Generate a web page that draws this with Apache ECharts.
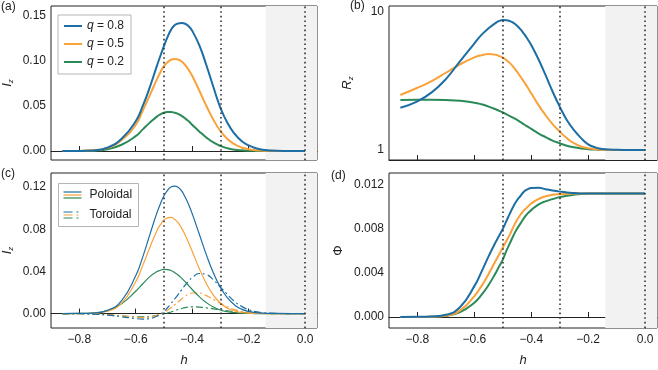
<!DOCTYPE html>
<html>
<head>
<meta charset="utf-8">
<script src="https://cdn.jsdelivr.net/npm/echarts@6/dist/echarts.min.js"></script>
<style>
  html, body { margin: 0; padding: 0; background: #fff; }
  #main { width: 658px; height: 370px; }
</style>
</head>
<body>
<div id="main"></div>
<script>
// sample positions along h, shared by every curve (finer around the peaks)
var hGrid = [-0.86, -0.8, -0.75, -0.7, -0.65, -0.6, -0.575, -0.55, -0.525,
             -0.5125, -0.5, -0.4875, -0.475, -0.4625, -0.45, -0.4375, -0.425, -0.4125, -0.4,
             -0.375, -0.35, -0.325, -0.3, -0.275, -0.25, -0.225, -0.2, -0.175, -0.15, -0.1, -0.05, 0.0];

// (a) I_z
var izBlue   = [0, 0.0001, 0.0006, 0.0038, 0.0135, 0.033, 0.05, 0.071, 0.0945,
                0.1058, 0.1165, 0.1265, 0.1345, 0.1395, 0.1416, 0.142, 0.1413, 0.1385, 0.1335,
                0.1175, 0.0955, 0.071, 0.048, 0.031, 0.0192, 0.011, 0.0062, 0.0032, 0.0014, 0.0002, 0, 0];
var izOrange = [0, 0.0001, 0.0007, 0.0034, 0.0122, 0.029, 0.045, 0.062, 0.0795,
                0.0875, 0.0942, 0.0985, 0.1013, 0.1022, 0.1016, 0.0993, 0.0955, 0.0901, 0.0835,
                0.0672, 0.0502, 0.0348, 0.0222, 0.0134, 0.0075, 0.0039, 0.0019, 0.0009, 0.0004, 0.0001, 0, 0];
var izGreen  = [0, 0.0001, 0.0004, 0.002, 0.0069, 0.0165, 0.024, 0.0315, 0.0382,
                0.0407, 0.0425, 0.0432, 0.0433, 0.0426, 0.0412, 0.039, 0.0362, 0.0329, 0.0292,
                0.0217, 0.015, 0.0095, 0.0056, 0.003, 0.0015, 0.0007, 0.0003, 0.0001, 0, 0, 0, 0];

// (b) R_z
var rzBlue   = [2.02, 2.25, 2.61, 3.26, 4.4, 5.9, 6.8, 7.59, 8.3,
                8.58, 8.71, 8.68, 8.55, 8.3, 7.92, 7.45, 6.9, 6.33, 5.74,
                4.55, 3.49, 2.65, 2.06, 1.65, 1.395, 1.22, 1.1, 1.045, 1.017, 1.003, 1, 1];
var rzOrange = [2.5, 2.82, 3.15, 3.62, 4.17, 4.68, 4.85, 4.94, 4.88,
                4.78, 4.65, 4.47, 4.25, 3.98, 3.68, 3.39, 3.1, 2.83, 2.57,
                2.12, 1.79, 1.54, 1.36, 1.22, 1.12, 1.06, 1.03, 1.012, 1.005, 1.001, 1, 1];
var rzGreen  = [2.3, 2.31, 2.31, 2.3, 2.27, 2.2, 2.14, 2.06, 1.97,
                1.92, 1.87, 1.815, 1.76, 1.705, 1.65, 1.59, 1.53, 1.475, 1.42,
                1.32, 1.24, 1.17, 1.12, 1.075, 1.046, 1.027, 1.015, 1.008, 1.004, 1.001, 1, 1];

// (c) poloidal / toroidal I_z
var poloBlue   = [0, 0.0001, 0.0005, 0.003, 0.0123, 0.0358, 0.0538, 0.0748, 0.0955,
                  0.1042, 0.1118, 0.1168, 0.1201, 0.1208, 0.1198, 0.1163, 0.1105, 0.1033, 0.0948,
                  0.0755, 0.0559, 0.0386, 0.0248, 0.0148, 0.0082, 0.0042, 0.002, 0.0009, 0.0004, 0.0001, 0, 0];
var poloOrange = [0, 0, 0.0003, 0.0022, 0.0099, 0.0302, 0.0457, 0.0627, 0.0785,
                  0.0843, 0.0889, 0.0907, 0.0913, 0.0895, 0.0862, 0.081, 0.0745, 0.0671, 0.059,
                  0.0428, 0.0285, 0.0174, 0.0098, 0.005, 0.0024, 0.001, 0.0004, 0.0001, 0, 0, 0, 0];
var poloGreen  = [0, 0.0001, 0.0007, 0.0029, 0.0093, 0.0211, 0.0283, 0.035, 0.0398,
                  0.0411, 0.0419, 0.0417, 0.0408, 0.039, 0.0366, 0.0336, 0.0302, 0.0265, 0.0228,
                  0.016, 0.0104, 0.0062, 0.0034, 0.0017, 0.0008, 0.0003, 0.0001, 0, 0, 0, 0, 0];
var toroBlue   = [0, -0.0002, -0.0006, -0.0015, -0.003, -0.0048, -0.0052, -0.0047, -0.0025,
                  -0.0005, 0.002, 0.0055, 0.0095, 0.0137, 0.018, 0.0225, 0.027, 0.0308, 0.034,
                  0.038, 0.037, 0.032, 0.025, 0.018, 0.0115, 0.0068, 0.0037, 0.0018, 0.0008, 0.0001, 0, 0];
var toroOrange = [0, -0.0001, -0.0004, -0.001, -0.0022, -0.0035, -0.0038, -0.0033, -0.0018,
                  -0.0005, 0.001, 0.0031, 0.0055, 0.0082, 0.011, 0.0138, 0.0165, 0.0183, 0.0195,
                  0.0195, 0.017, 0.0135, 0.0097, 0.0063, 0.0037, 0.002, 0.001, 0.0004, 0.0001, 0, 0, 0];
var toroGreen  = [0, -0.0001, -0.0004, -0.0011, -0.0022, -0.0031, -0.0032, -0.0028, -0.0018,
                  -0.0012, -0.0003, 0.0005, 0.0015, 0.0026, 0.0038, 0.0048, 0.0056, 0.0061, 0.0063,
                  0.0061, 0.0054, 0.0045, 0.0035, 0.0026, 0.0018, 0.0011, 0.0006, 0.0003, 0.0001, 0, 0, 0];

// (d) Phi
var phiBlue   = [0, 0.00001, 0.00005, 0.0002, 0.0009, 0.0028, 0.0041, 0.0055, 0.0068,
                 0.0074, 0.008, 0.0087, 0.0094, 0.01005, 0.0106, 0.011, 0.0114, 0.0116, 0.0117,
                 0.01173, 0.0116, 0.01148, 0.01138, 0.0113, 0.01125, 0.01122, 0.01121, 0.0112, 0.0112, 0.0112, 0.0112, 0.0112];
var phiOrange = [0, 0, 0.00003, 0.00012, 0.0006, 0.0019, 0.0028, 0.0039, 0.0051,
                 0.0057, 0.0063, 0.0069, 0.0075, 0.0082, 0.0088, 0.0093, 0.0097, 0.01, 0.0103,
                 0.0107, 0.01095, 0.0111, 0.01115, 0.01118, 0.0112, 0.0112, 0.0112, 0.0112, 0.0112, 0.0112, 0.0112, 0.0112];
var phiGreen  = [0, 0, 0.00002, 0.0001, 0.00045, 0.0013, 0.002, 0.0029, 0.004,
                 0.0046, 0.0052, 0.006, 0.0067, 0.0074, 0.008, 0.0085, 0.009, 0.0094, 0.0097,
                 0.0102, 0.0105, 0.0107, 0.01088, 0.011, 0.0111, 0.01117, 0.0112, 0.0112, 0.0112, 0.0112, 0.0112, 0.0112];

var qNames  = ['q = 0.8', 'q = 0.5', 'q = 0.2'];
var xTicks  = [-0.8, -0.6, -0.4, -0.2, 0.0];
var izTicks = [0, 0.05, 0.10, 0.15];
var rzTicks = [1, 10];
var rzMinor = [2, 3, 4, 5, 6, 7, 8, 9];
var ipTicks = [0, 0.04, 0.08, 0.12];
var phTicks = [0, 0.004, 0.008, 0.012];
var dottedAt = [-0.5, -0.3, 0.0];
var shadeFrom = -0.14;

var BLUE = '#1c6ea4', ORANGE = '#f9a23a', GREEN = '#2a8a58', INK = '#222';
var FONT = 'Liberation Sans';
var X_MIN = -0.9, X_MAX = 0.042;

function pts(ys) {
    return hGrid.map(function (h, i) { return [h, ys[i]]; });
}

function curve(name, ys, color, gi, width, dash) {
    return {
        name: name,
        type: 'line',
        xAxisIndex: gi,
        yAxisIndex: gi,
        data: pts(ys),
        smooth: 0.5,
        showSymbol: false,
        z: 3,
        lineStyle: { color: color, width: width, type: dash || 'solid' },
        itemStyle: { color: color }
    };
}

// shaded band and dotted guides, one per panel
function guides(gi) {
    return {
        type: 'line',
        xAxisIndex: gi,
        yAxisIndex: gi,
        data: [],
        z: 1,
        markArea: {
            silent: true,
            itemStyle: { color: '#f2f2f2' },
            data: [[{ xAxis: shadeFrom }, { xAxis: X_MAX }]]
        },
        markLine: {
            silent: true,
            symbol: 'none',
            label: { show: false },
            lineStyle: { color: '#333', type: [1.6, 3], width: 1.6 },
            data: dottedAt.map(function (x) { return { xAxis: x }; })
        }
    };
}

function xAxis(gi, bottom) {
    return {
        type: 'value',
        gridIndex: gi,
        min: X_MIN,
        max: X_MAX,
        name: bottom ? 'h' : '',
        nameLocation: 'middle',
        nameGap: 26,
        nameTextStyle: { fontFamily: FONT, fontSize: 13, fontStyle: 'italic', color: INK },
        axisLine: { lineStyle: { color: INK, width: 1 } },
        axisTick: { inside: true, length: 5, customValues: xTicks, lineStyle: { color: INK } },
        axisLabel: {
            show: bottom,
            customValues: xTicks,
            margin: 6,
            fontFamily: FONT,
            fontSize: 12,
            color: INK,
            formatter: function (v) { return (v < 0 ? '\u2212' : '') + Math.abs(v).toFixed(1); }
        },
        splitLine: { show: false }
    };
}

function yAxis(gi, min, max, ticks, digits, name, gap) {
    return {
        type: 'value',
        gridIndex: gi,
        min: min,
        max: max,
        name: name,
        nameLocation: 'middle',
        nameGap: gap,
        nameTextStyle: {
            fontFamily: FONT, fontSize: 13, color: INK,
            rich: {
                i: { fontFamily: FONT, fontSize: 13, fontStyle: 'italic', color: INK },
                s: { fontFamily: FONT, fontSize: 8, fontStyle: 'italic', color: INK, padding: [7, 0, 0, 0] }
            }
        },
        axisLine: { lineStyle: { color: INK, width: 1 } },
        axisTick: { inside: true, length: 5, customValues: ticks, lineStyle: { color: INK } },
        axisLabel: {
            customValues: ticks,
            margin: 5,
            fontFamily: FONT,
            fontSize: 12,
            color: INK,
            formatter: function (v) { return v.toFixed(digits); }
        },
        splitLine: { show: false }
    };
}

var rzAxis = {
    type: 'log',
    gridIndex: 1,
    min: 0.847,
    max: 11,
    name: '{i|R}{s|z}',
    nameLocation: 'middle',
    nameGap: 34,
    nameTextStyle: {
        rich: {
            i: { fontFamily: FONT, fontSize: 13, fontStyle: 'italic', color: INK },
            s: { fontFamily: FONT, fontSize: 8, fontStyle: 'italic', color: INK, padding: [7, 0, 0, 0] }
        }
    },
    axisLine: { lineStyle: { color: INK, width: 1 } },
    axisTick: { inside: true, length: 5, customValues: rzTicks, lineStyle: { color: INK } },
    axisLabel: { customValues: rzTicks, margin: 5, fontFamily: FONT, fontSize: 12, color: INK },
    splitLine: { show: false }
};
// minor ticks for the log axis
var rzMinorAxis = {
    type: 'log',
    gridIndex: 1,
    min: 0.847,
    max: 11,
    axisLine: { show: false },
    axisTick: { inside: true, length: 3, customValues: rzMinor, lineStyle: { color: INK } },
    axisLabel: { show: false },
    splitLine: { show: false }
};

var chart = echarts.init(document.getElementById('main'));
chart.setOption({
    animation: false,
    backgroundColor: '#fff',
    textStyle: { fontFamily: FONT },
    title: [
        { text: '(a)', left: 1, top: 1 },
        { text: '(b)', left: 350, top: 0 },
        { text: '(c)', left: 1, top: 168 },
        { text: '(d)', left: 331, top: 170 }
    ].map(function (t) {
        t.padding = 0;
        t.textStyle = { fontFamily: FONT, fontSize: 12, fontWeight: 'normal', color: INK };
        return t;
    }),
    grid: [
        { left: 48, top: 6, width: 269, height: 154, show: true, borderColor: INK, borderWidth: 1 },
        { left: 389, top: 6, width: 268, height: 154, show: true, borderColor: INK, borderWidth: 1 },
        { left: 48, top: 173, width: 269, height: 155, show: true, borderColor: INK, borderWidth: 1 },
        { left: 389, top: 173, width: 268, height: 155, show: true, borderColor: INK, borderWidth: 1 }
    ],
    xAxis: [xAxis(0, false), xAxis(1, false), xAxis(2, true), xAxis(3, true)],
    yAxis: [
        yAxis(0, -0.01, 0.161, izTicks, 2, '{i|I}{s|z}', 36),
        rzAxis,
        yAxis(2, -0.0137, 0.1333, ipTicks, 2, '{i|I}{s|z}', 36),
        yAxis(3, -0.001, 0.01307, phTicks, 3, '\u03a6', 44),
        rzMinorAxis
    ],
    legend: {
        data: qNames,
        left: 58,
        top: 15,
        orient: 'vertical',
        icon: 'rect',
        itemWidth: 18,
        itemHeight: 2,
        itemGap: 6,
        padding: [5, 7, 6, 6],
        borderColor: '#b5b5b5',
        borderWidth: 1,
        backgroundColor: '#fff',
        selectedMode: false,
        formatter: function (n) { return '{i|q}' + n.slice(1); },
        textStyle: {
            fontFamily: FONT, fontSize: 12, color: INK,
            rich: { i: { fontFamily: FONT, fontSize: 12, fontStyle: 'italic', color: INK } }
        }
    },
    graphic: [
        {
            type: 'group',
            left: 58,
            top: 183,
            children: [
                { type: 'rect', shape: { x: 0, y: 0, width: 80, height: 43 }, style: { fill: '#fff', stroke: '#b5b5b5', lineWidth: 1 } },
                { type: 'line', shape: { x1: 5, y1: 8.5, x2: 23, y2: 8.5 }, style: { stroke: BLUE, lineWidth: 1.2 } },
                { type: 'line', shape: { x1: 5, y1: 11.5, x2: 23, y2: 11.5 }, style: { stroke: ORANGE, lineWidth: 1.2 } },
                { type: 'line', shape: { x1: 5, y1: 14.5, x2: 23, y2: 14.5 }, style: { stroke: GREEN, lineWidth: 1.2 } },
                { type: 'text', x: 31, y: 11.5, style: { text: 'Poloidal', fontFamily: FONT, fontSize: 12, fill: INK, verticalAlign: 'middle' } },
                { type: 'line', shape: { x1: 5, y1: 28.5, x2: 23, y2: 28.5 }, style: { stroke: BLUE, lineWidth: 1.2, lineDash: [9, 4, 2, 10] } },
                { type: 'line', shape: { x1: 5, y1: 31.5, x2: 23, y2: 31.5 }, style: { stroke: ORANGE, lineWidth: 1.2, lineDash: [9, 4, 2, 10] } },
                { type: 'line', shape: { x1: 5, y1: 34.5, x2: 23, y2: 34.5 }, style: { stroke: GREEN, lineWidth: 1.2, lineDash: [9, 4, 2, 10] } },
                { type: 'text', x: 31, y: 31.5, style: { text: 'Toroidal', fontFamily: FONT, fontSize: 12, fill: INK, verticalAlign: 'middle' } }
            ]
        }
    ],
    series: [
        guides(0),
        curve(qNames[2], izGreen, GREEN, 0, 2),
        curve(qNames[1], izOrange, ORANGE, 0, 2),
        curve(qNames[0], izBlue, BLUE, 0, 2),

        guides(1),
        curve('Rz 0.2', rzGreen, GREEN, 1, 2),
        curve('Rz 0.5', rzOrange, ORANGE, 1, 2),
        curve('Rz 0.8', rzBlue, BLUE, 1, 2),

        guides(2),
        curve('tor 0.2', toroGreen, GREEN, 2, 1.2, [7, 3, 2, 3]),
        curve('tor 0.5', toroOrange, ORANGE, 2, 1.2, [7, 3, 2, 3]),
        curve('tor 0.8', toroBlue, BLUE, 2, 1.2, [7, 3, 2, 3]),
        curve('pol 0.2', poloGreen, GREEN, 2, 1.2),
        curve('pol 0.5', poloOrange, ORANGE, 2, 1.2),
        curve('pol 0.8', poloBlue, BLUE, 2, 1.2),

        guides(3),
        curve('phi 0.2', phiGreen, GREEN, 3, 2),
        curve('phi 0.5', phiOrange, ORANGE, 3, 2),
        curve('phi 0.8', phiBlue, BLUE, 3, 2)
    ]
});
</script>
</body>
</html>
